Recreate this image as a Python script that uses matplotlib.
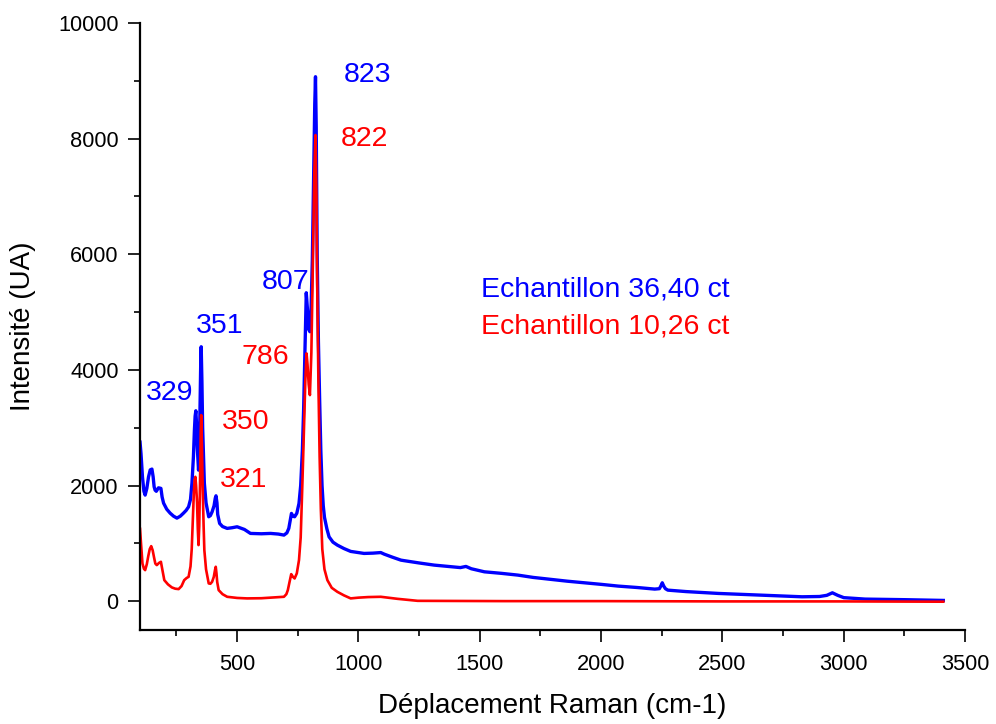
import matplotlib
matplotlib.use("Agg")
import matplotlib.pyplot as plt
from matplotlib.ticker import MultipleLocator

plt.rcParams['font.family'] = ['Liberation Sans', 'DejaVu Sans']

# Blue spectrum: Echantillon 36,40 ct (Raman shift cm-1, intensity)
blue_x = [100, 104, 110, 116, 121, 128, 135, 142, 149, 154, 158, 162, 167,
          176, 186, 191, 197, 210, 224, 238, 252, 266, 279, 290, 300, 308,
          314, 320, 324, 327, 330, 333, 336, 341, 344, 347, 350, 352, 355,
          358, 362, 365, 372, 383, 390, 397, 405, 410, 413, 417, 420, 428,
          440, 459, 480, 500, 530, 555, 600, 638, 670, 693, 705, 713, 719,
          724, 730, 737, 746, 755, 762, 769, 774, 780, 785, 789, 795, 800,
          805, 810, 815, 820, 823, 826, 830, 835, 840, 845, 850, 855, 860,
          870, 879, 895, 913, 940, 968, 1000, 1023, 1060, 1092, 1106, 1140,
          1175, 1188, 1250, 1312, 1380, 1420, 1443, 1465, 1519, 1590, 1657,
          1720, 1794, 1860, 1932, 2000, 2070, 2150, 2221, 2240, 2246, 2252,
          2258, 2265, 2275, 2350, 2483, 2650, 2828, 2900, 2930, 2953, 2975,
          3000, 3088, 3250, 3410]
blue_y = [2750, 2550, 2150, 1900, 1834, 1950, 2150, 2270, 2284, 2150, 1980,
          1920, 1900, 1960, 1950, 1800, 1695, 1590, 1522, 1470, 1436, 1470,
          1522, 1570, 1631, 1760, 2041, 2500, 2950, 3200, 3293, 3050, 2650,
          2266, 2500, 3300, 4100, 4400, 3800, 3000, 2450, 2041, 1700, 1459,
          1480, 1545, 1650, 1780, 1822, 1700, 1500, 1344, 1290, 1258, 1270,
          1286, 1240, 1171, 1165, 1171, 1160, 1142, 1180, 1258, 1400, 1517,
          1470, 1459, 1520, 1690, 2000, 2612, 3300, 4400, 5334, 5100, 4700,
          4660, 5100, 5900, 7300, 8600, 9071, 8200, 6000, 4500, 3500, 2600,
          2000, 1650, 1450, 1250, 1112, 1020, 969, 910, 860, 840, 825, 830,
          840, 813, 760, 709, 700, 660, 623, 595, 580, 600, 560, 507, 480,
          450, 410, 375, 345, 317, 290, 260, 235, 208, 215, 260, 317, 260,
          215, 190, 165, 133, 105, 75, 80, 100, 144, 100, 60, 35, 25, 12]

# Red spectrum: Echantillon 10,26 ct
red_x = [100, 104, 110, 116, 121, 128, 134, 140, 146, 152, 158, 163, 169,
         178, 186, 193, 200, 215, 231, 245, 259, 271, 282, 292, 300, 308,
         313, 318, 322, 325, 328, 331, 335, 338, 341, 344, 347, 350, 352,
         355, 358, 362, 365, 372, 383, 390, 397, 404, 409, 412, 415, 418,
         424, 440, 459, 500, 541, 600, 693, 703, 709, 716, 723, 730, 737,
         746, 755, 762, 769, 775, 781, 786, 790, 795, 800, 806, 812, 818,
         823, 827, 830, 835, 840, 845, 851, 860, 872, 890, 913, 940, 968,
         1000, 1040, 1092, 1160, 1244, 1600, 2000, 2500, 3000, 3410]
red_y = [1250, 1000, 650, 560, 536, 640, 780, 900, 951, 880, 750, 650, 623,
         660, 680, 520, 363, 290, 237, 215, 208, 260, 363, 400, 420, 600,
         900, 1459, 1900, 2100, 2150, 2000, 1700, 1250, 969, 1300, 2000,
         2900, 3218, 2700, 2000, 1300, 882, 550, 306, 300, 334, 420, 540,
         594, 480, 330, 190, 120, 75, 55, 47, 50, 75, 120, 190, 330, 467,
         420, 392, 480, 709, 1100, 2036, 2900, 3800, 4285, 4100, 3750, 3564,
         4300, 5800, 7400, 8062, 7000, 5500, 3800, 2500, 1600, 900, 550,
         363, 230, 161, 100, 47, 60, 70, 75, 40, 5, 0, 0, -5, -5, -10]

blue_labels = [("823", 939, 9100), ("807", 601, 5519), ("351", 332, 4757),
               ("329", 125, 3598)]
red_labels = [("822", 927, 7993), ("786", 518, 4221), ("350", 439, 3097),
              ("321", 427, 2093)]
legend_texts = [("Echantillon 36,40 ct", "#0000ff", 5398),
                ("Echantillon 10,26 ct", "#ff0000", 4758)]

fig = plt.figure(figsize=(9.96, 7.24), dpi=100)
ax = fig.add_axes([0.1406, 0.1298, 0.8284, 0.8384])

ax.plot(blue_x, blue_y, color="#0000ff", lw=2.4, solid_joinstyle="round")
ax.plot(red_x, red_y, color="#ff0000", lw=1.9, solid_joinstyle="round")

for t, x, y in blue_labels:
    ax.text(x, y, t, color="#0000ff", fontsize=20.5, ha="left", va="center")
for t, x, y in red_labels:
    ax.text(x, y, t, color="#ff0000", fontsize=20.5, ha="left", va="center")
for t, c, y in legend_texts:
    ax.text(1505, y, t, color=c, fontsize=20.5, ha="left", va="center")

ax.set_xlim(100, 3500)
ax.set_ylim(-500, 10000)
ax.xaxis.set_major_locator(MultipleLocator(500))
ax.xaxis.set_minor_locator(MultipleLocator(250))
ax.yaxis.set_major_locator(MultipleLocator(2000))
ax.yaxis.set_minor_locator(MultipleLocator(1000))

for s in ["top", "right"]:
    ax.spines[s].set_visible(False)
for s in ["left", "bottom"]:
    ax.spines[s].set_linewidth(1.6)

ax.tick_params(which="major", direction="out", length=8.5, width=1.2,
               labelsize=15.7)
ax.tick_params(axis="y", which="major", pad=7)
ax.tick_params(axis="x", which="major", pad=9)
ax.tick_params(which="minor", direction="out", length=4.5, width=1.2)

ax.set_xlabel("Déplacement Raman (cm-1)", fontsize=20, labelpad=13)
ax.set_ylabel("Intensité (UA)", fontsize=20, labelpad=16)

fig.savefig("out.png", dpi=100)
